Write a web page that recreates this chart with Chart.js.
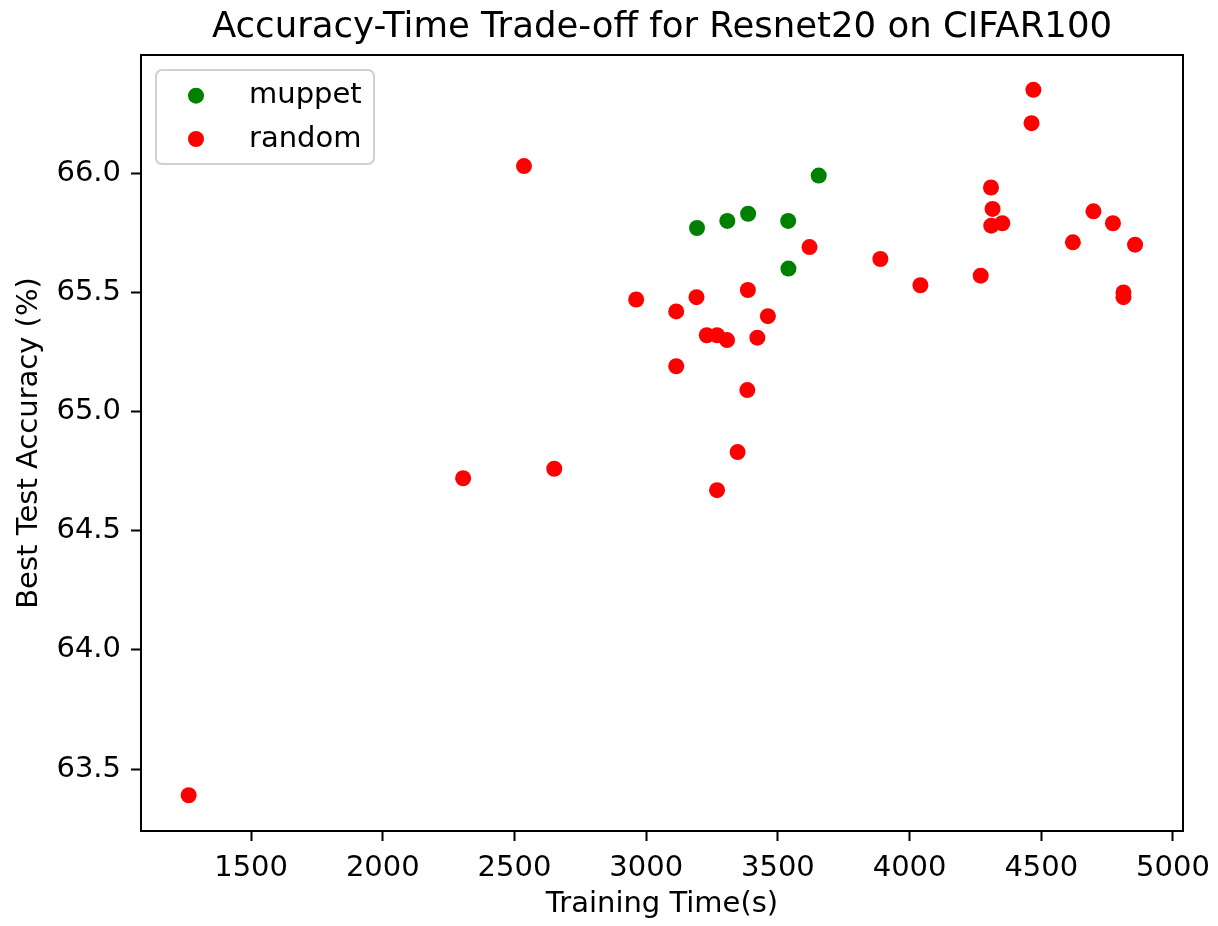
<!DOCTYPE html>
<html>
<head>
<meta charset="utf-8">
<script src="https://cdn.jsdelivr.net/npm/chart.js@4/dist/chart.umd.min.js"></script>
<style>
  html, body { margin: 0; padding: 0; background: #ffffff; }
  #wrap { width: 1218px; height: 926px; }
</style>
</head>
<body>
<div id="wrap"><canvas id="c" width="1218" height="926"></canvas></div>
<script>
// ---- data ----
const seriesNames = ['muppet', 'random'];
const muppetTime = [3193, 3308, 3387, 3539, 3655, 3540];
const muppetAcc  = [65.77, 65.80, 65.83, 65.80, 65.99, 65.60];
const randomTime = [1263, 2305, 2536, 2651, 2962, 3114, 3114, 3191, 3230, 3269, 3307, 3269, 3347, 3386, 3384, 3422, 3462, 3620, 3889, 4041, 4270, 4309, 4315, 4310, 4352, 4463, 4470, 4620, 4698, 4772, 4812, 4812, 4856];
const randomAcc  = [63.39, 64.72, 66.03, 64.76, 65.47, 65.42, 65.19, 65.48, 65.32, 65.32, 65.30, 64.67, 64.83, 65.51, 65.09, 65.31, 65.40, 65.69, 65.64, 65.53, 65.57, 65.94, 65.85, 65.78, 65.79, 66.21, 66.35, 65.71, 65.84, 65.79, 65.50, 65.48, 65.70];
const xTicks = [1500, 2000, 2500, 3000, 3500, 4000, 4500, 5000];
const yTicks = [63.5, 64.0, 64.5, 65.0, 65.5, 66.0];

const toPts = (xs, ys) => xs.map((x, i) => ({ x: x, y: ys[i] }));

const FONT = 'DejaVu Sans';

const framePlugin = {
  id: 'frame',
  afterDraw(chart) {
    const { ctx, chartArea: a } = chart;
    ctx.save();
    ctx.strokeStyle = '#000000';
    ctx.lineWidth = 2;
    ctx.strokeRect(a.left, a.top, a.right - a.left, a.bottom - a.top);
    ctx.restore();
  }
};

const legendPlugin = {
  id: 'innerLegend',
  afterDraw(chart) {
    const { ctx, chartArea: a } = chart;
    const x0 = a.left + 15, y0 = a.top + 15, w = 218, h = 94, r = 6;
    ctx.save();
    ctx.beginPath();
    ctx.roundRect(x0, y0, w, h, r);
    ctx.fillStyle = 'rgba(255,255,255,0.8)';
    ctx.fill();
    ctx.strokeStyle = '#d0d0d0';
    ctx.lineWidth = 2;
    ctx.stroke();
    ctx.font = '29px "' + FONT + '"';
    ctx.textBaseline = 'alphabetic';
    ctx.textAlign = 'left';
    chart.data.datasets.forEach((ds, i) => {
      const cy = a.top + 40.7 + i * 43.3;
      ctx.beginPath();
      ctx.arc(a.left + 55, cy, 8, 0, Math.PI * 2);
      ctx.fillStyle = ds.backgroundColor;
      ctx.fill();
      ctx.fillStyle = '#000000';
      ctx.fillText(ds.label, a.left + 108, cy + 7.6);
    });
    ctx.restore();
  }
};

new Chart(document.getElementById('c'), {
  type: 'scatter',
  data: {
    datasets: [
      { label: seriesNames[0], data: toPts(muppetTime, muppetAcc), backgroundColor: '#008000', borderWidth: 0, pointRadius: 8, pointHoverRadius: 8, order: 1 },
      { label: seriesNames[1], data: toPts(randomTime, randomAcc), backgroundColor: '#ff0000', borderWidth: 0, pointRadius: 8, pointHoverRadius: 8, order: 0 }
    ]
  },
  options: {
    responsive: false,
    devicePixelRatio: 1,
    animation: false,
    layout: { padding: { left: 0, right: 35, top: 0, bottom: 0 } },
    plugins: {
      legend: { display: false },
      tooltip: { enabled: false },
      title: {
        display: true,
        text: 'Accuracy-Time Trade-off for Resnet20 on CIFAR100',
        color: '#000000',
        font: { family: FONT, size: 35.5, weight: 'normal' },
        padding: { top: 6, bottom: 6.4 },
        fullSize: false
      }
    },
    scales: {
      x: {
        type: 'linear',
        min: 1082,
        max: 5038,
        afterFit(scale) { scale.height = 95; scale.paddingLeft = 0; scale.paddingRight = 0; },
        afterBuildTicks(scale) { scale.ticks = xTicks.map(v => ({ value: v })); },
        grid: { drawOnChartArea: false, drawTicks: true, tickLength: 10, tickColor: '#000000', tickWidth: 2, color: '#000000' },
        border: { display: false },
        ticks: { color: '#000000', font: { family: FONT, size: 29 }, padding: 10, maxRotation: 0, autoSkip: false, callback: v => String(v) },
        title: { display: true, text: 'Training Time(s)', color: '#000000', font: { family: FONT, size: 29 }, padding: { top: 0, bottom: 4.5 } }
      },
      y: {
        type: 'linear',
        min: 63.24,
        max: 66.496,
        afterFit(scale) { scale.width = 141; scale.paddingTop = 0; scale.paddingBottom = 0; },
        afterBuildTicks(scale) { scale.ticks = yTicks.map(v => ({ value: v })); },
        grid: { drawOnChartArea: false, drawTicks: true, tickLength: 10, tickColor: '#000000', tickWidth: 2, color: '#000000' },
        border: { display: false },
        ticks: { color: '#000000', font: { family: FONT, size: 29 }, padding: 10, autoSkip: false, callback: v => Number(v).toFixed(1) },
        title: { display: true, text: 'Best Test Accuracy (%)', color: '#000000', font: { family: FONT, size: 29 }, padding: { top: 12, bottom: 0 } }
      }
    }
  },
  plugins: [framePlugin, legendPlugin]
});
</script>
</body>
</html>
